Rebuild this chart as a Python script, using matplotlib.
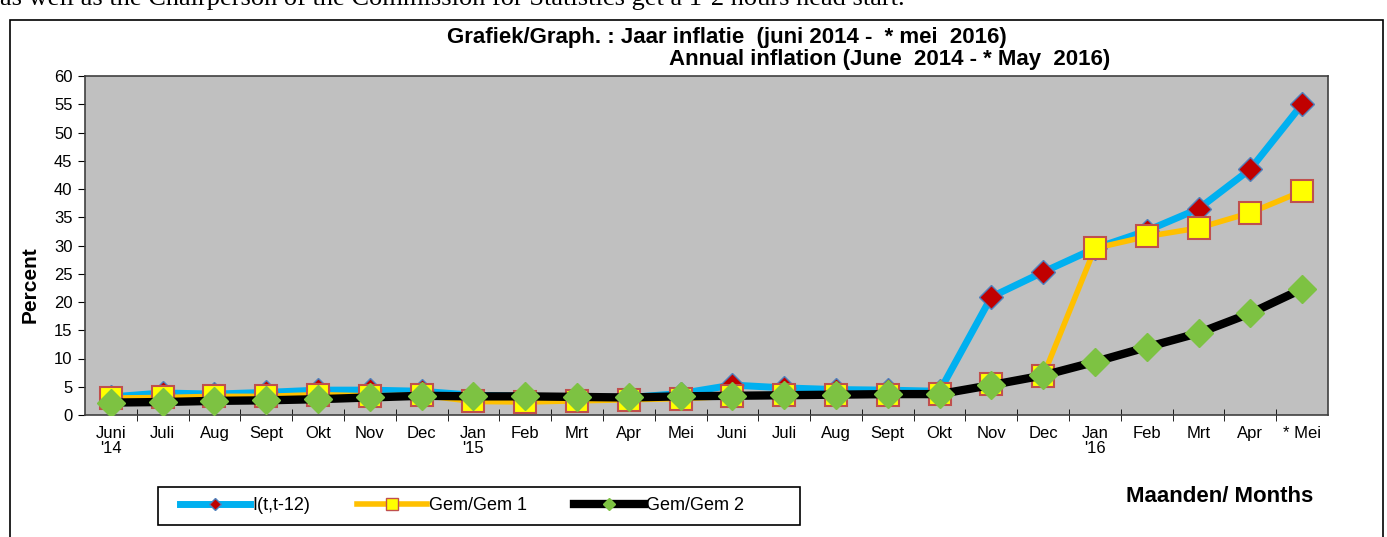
import matplotlib
matplotlib.use('Agg')
import matplotlib.pyplot as plt
from matplotlib.lines import Line2D
from matplotlib.patches import Rectangle
import numpy as np

months = ['Juni\n\'14', 'Juli', 'Aug', 'Sept', 'Okt', 'Nov', 'Dec',
          'Jan\n\'15', 'Feb', 'Mrt', 'Apr', 'Mei', 'Juni', 'Juli', 'Aug',
          'Sept', 'Okt', 'Nov', 'Dec', 'Jan\n\'16', 'Feb', 'Mrt', 'Apr', '* Mei']

# I(t,t-12)
infl_12 = [3.2, 3.9, 3.7, 4.0, 4.4, 4.4, 4.2, 3.5, 3.3, 3.2, 3.1, 3.8,
           5.3, 4.8, 4.5, 4.4, 4.2, 20.9, 25.3, 29.5, 32.6, 36.5, 43.5, 55.0]
# Gem/Gem 1
gem1 = [3.0, 3.1, 3.3, 3.3, 3.6, 3.4, 3.5, 2.4, 2.3, 2.5, 2.7, 2.9,
        3.3, 3.5, 3.6, 3.6, 3.7, 5.4, 6.9, 29.5, 31.6, 33.1, 35.8, 39.6]
# Gem/Gem 2
gem2 = [2.2, 2.3, 2.5, 2.6, 2.8, 3.1, 3.4, 3.3, 3.3, 3.2, 3.1, 3.3,
        3.4, 3.5, 3.6, 3.7, 3.7, 5.3, 7.0, 9.4, 12.0, 14.5, 18.0, 22.3]

W, H = 1387, 537
fig = plt.figure(figsize=(W / 100, H / 100), dpi=100)
fig.patch.set_facecolor('white')

# frame around the chart (runs off the bottom)
fig.patches.append(Rectangle((10 / W, -0.05), 1373 / W, 1.05 - 20 / H,
                             transform=fig.transFigure, fill=False,
                             edgecolor='black', linewidth=1.2))

# leftover line of the surrounding document, cut at the top
fig.text(0.0, 1 - 5 / H, 'as well as the Chairperson of the Commission for Statistics get a 1-2 hours head start.',
         family='Liberation Serif', fontsize=19, ha='left', va='baseline')

ax = fig.add_axes([85 / W, 1 - 415 / H, (1328 - 85) / W, (415 - 76) / H])
ax.set_facecolor('#C0C0C0')

x = np.arange(len(months))

blue = dict(color='#00B0F0', lw=5, marker='D', markersize=12,
            markerfacecolor='#C00000', markeredgecolor='#4F81BD', markeredgewidth=1)
yel = dict(color='#FFC000', lw=4, marker='s', markersize=16,
           markerfacecolor='#FFFF00', markeredgecolor='#C0504D', markeredgewidth=1.5)
blk = dict(color='black', lw=6, marker='D', markersize=14,
           markerfacecolor='#7DC242', markeredgecolor='#7DC242', markeredgewidth=1)

ax.plot(x, infl_12, zorder=3, **blue)
ax.plot(x, gem1, zorder=4, **yel)
ax.plot(x, gem2, zorder=5, **blk)

ax.set_xlim(-0.5, len(months) - 0.5)
ax.set_ylim(0, 60)
ax.set_yticks(np.arange(0, 61, 5))
ax.tick_params(axis='y', direction='out', length=5, labelsize=12, pad=4)
ax.set_xticks(x)
ax.set_xticklabels(months, fontsize=12, linespacing=1.0)
ax.set_xticks(np.arange(0.5, len(months) - 0.5, 1), minor=True)
ax.tick_params(axis='x', which='major', length=0, pad=8)
ax.tick_params(axis='x', which='minor', direction='inout', length=8)
for lab in ax.get_xticklabels() + ax.get_yticklabels():
    lab.set_family('Liberation Sans')
for s in ax.spines.values():
    s.set_color('#404040')
    s.set_linewidth(1.2)

fig.text(30 / W, 1 - 285 / H, 'Percent', rotation=90, ha='center', va='center',
         family='Liberation Sans', fontweight='bold', fontsize=15)

fig.text(727 / W, 1 - 37 / H, 'Grafiek/Graph. : Jaar inflatie  (juni 2014 -  * mei  2016)',
         ha='center', va='center', family='Liberation Sans', fontweight='bold', fontsize=16)
fig.text(890 / W, 1 - 60 / H, 'Annual inflation (June  2014 - * May  2016)',
         ha='center', va='center', family='Liberation Sans', fontweight='bold', fontsize=16)

fig.text(1220 / W, 1 - 497 / H, 'Maanden/ Months', ha='center', va='center',
         family='Liberation Sans', fontweight='bold', fontsize=16)

# legend box drawn separately: it is much wider than its contents
fig.patches.append(Rectangle((158 / W, 1 - 525 / H), 642 / W, 38 / H,
                             transform=fig.transFigure, fill=False,
                             edgecolor='black', linewidth=1.2))
handles = [
    Line2D([], [], **{**blue, 'markersize': 6}),
    Line2D([], [], **{**yel, 'markersize': 9, 'markeredgewidth': 1}),
    Line2D([], [], **{**blk, 'markersize': 6}),
]
leg = fig.legend(handles, ['I(t,t-12)', 'Gem/Gem 1', 'Gem/Gem 2'],
                 loc='center', bbox_to_anchor=(462 / W, 1 - 506 / H), ncol=3,
                 frameon=False, handlelength=3.9,
                 handletextpad=0.1, columnspacing=2.6,
                 prop={'family': 'Liberation Sans', 'size': 13})

fig.savefig('out.png', dpi=100)
